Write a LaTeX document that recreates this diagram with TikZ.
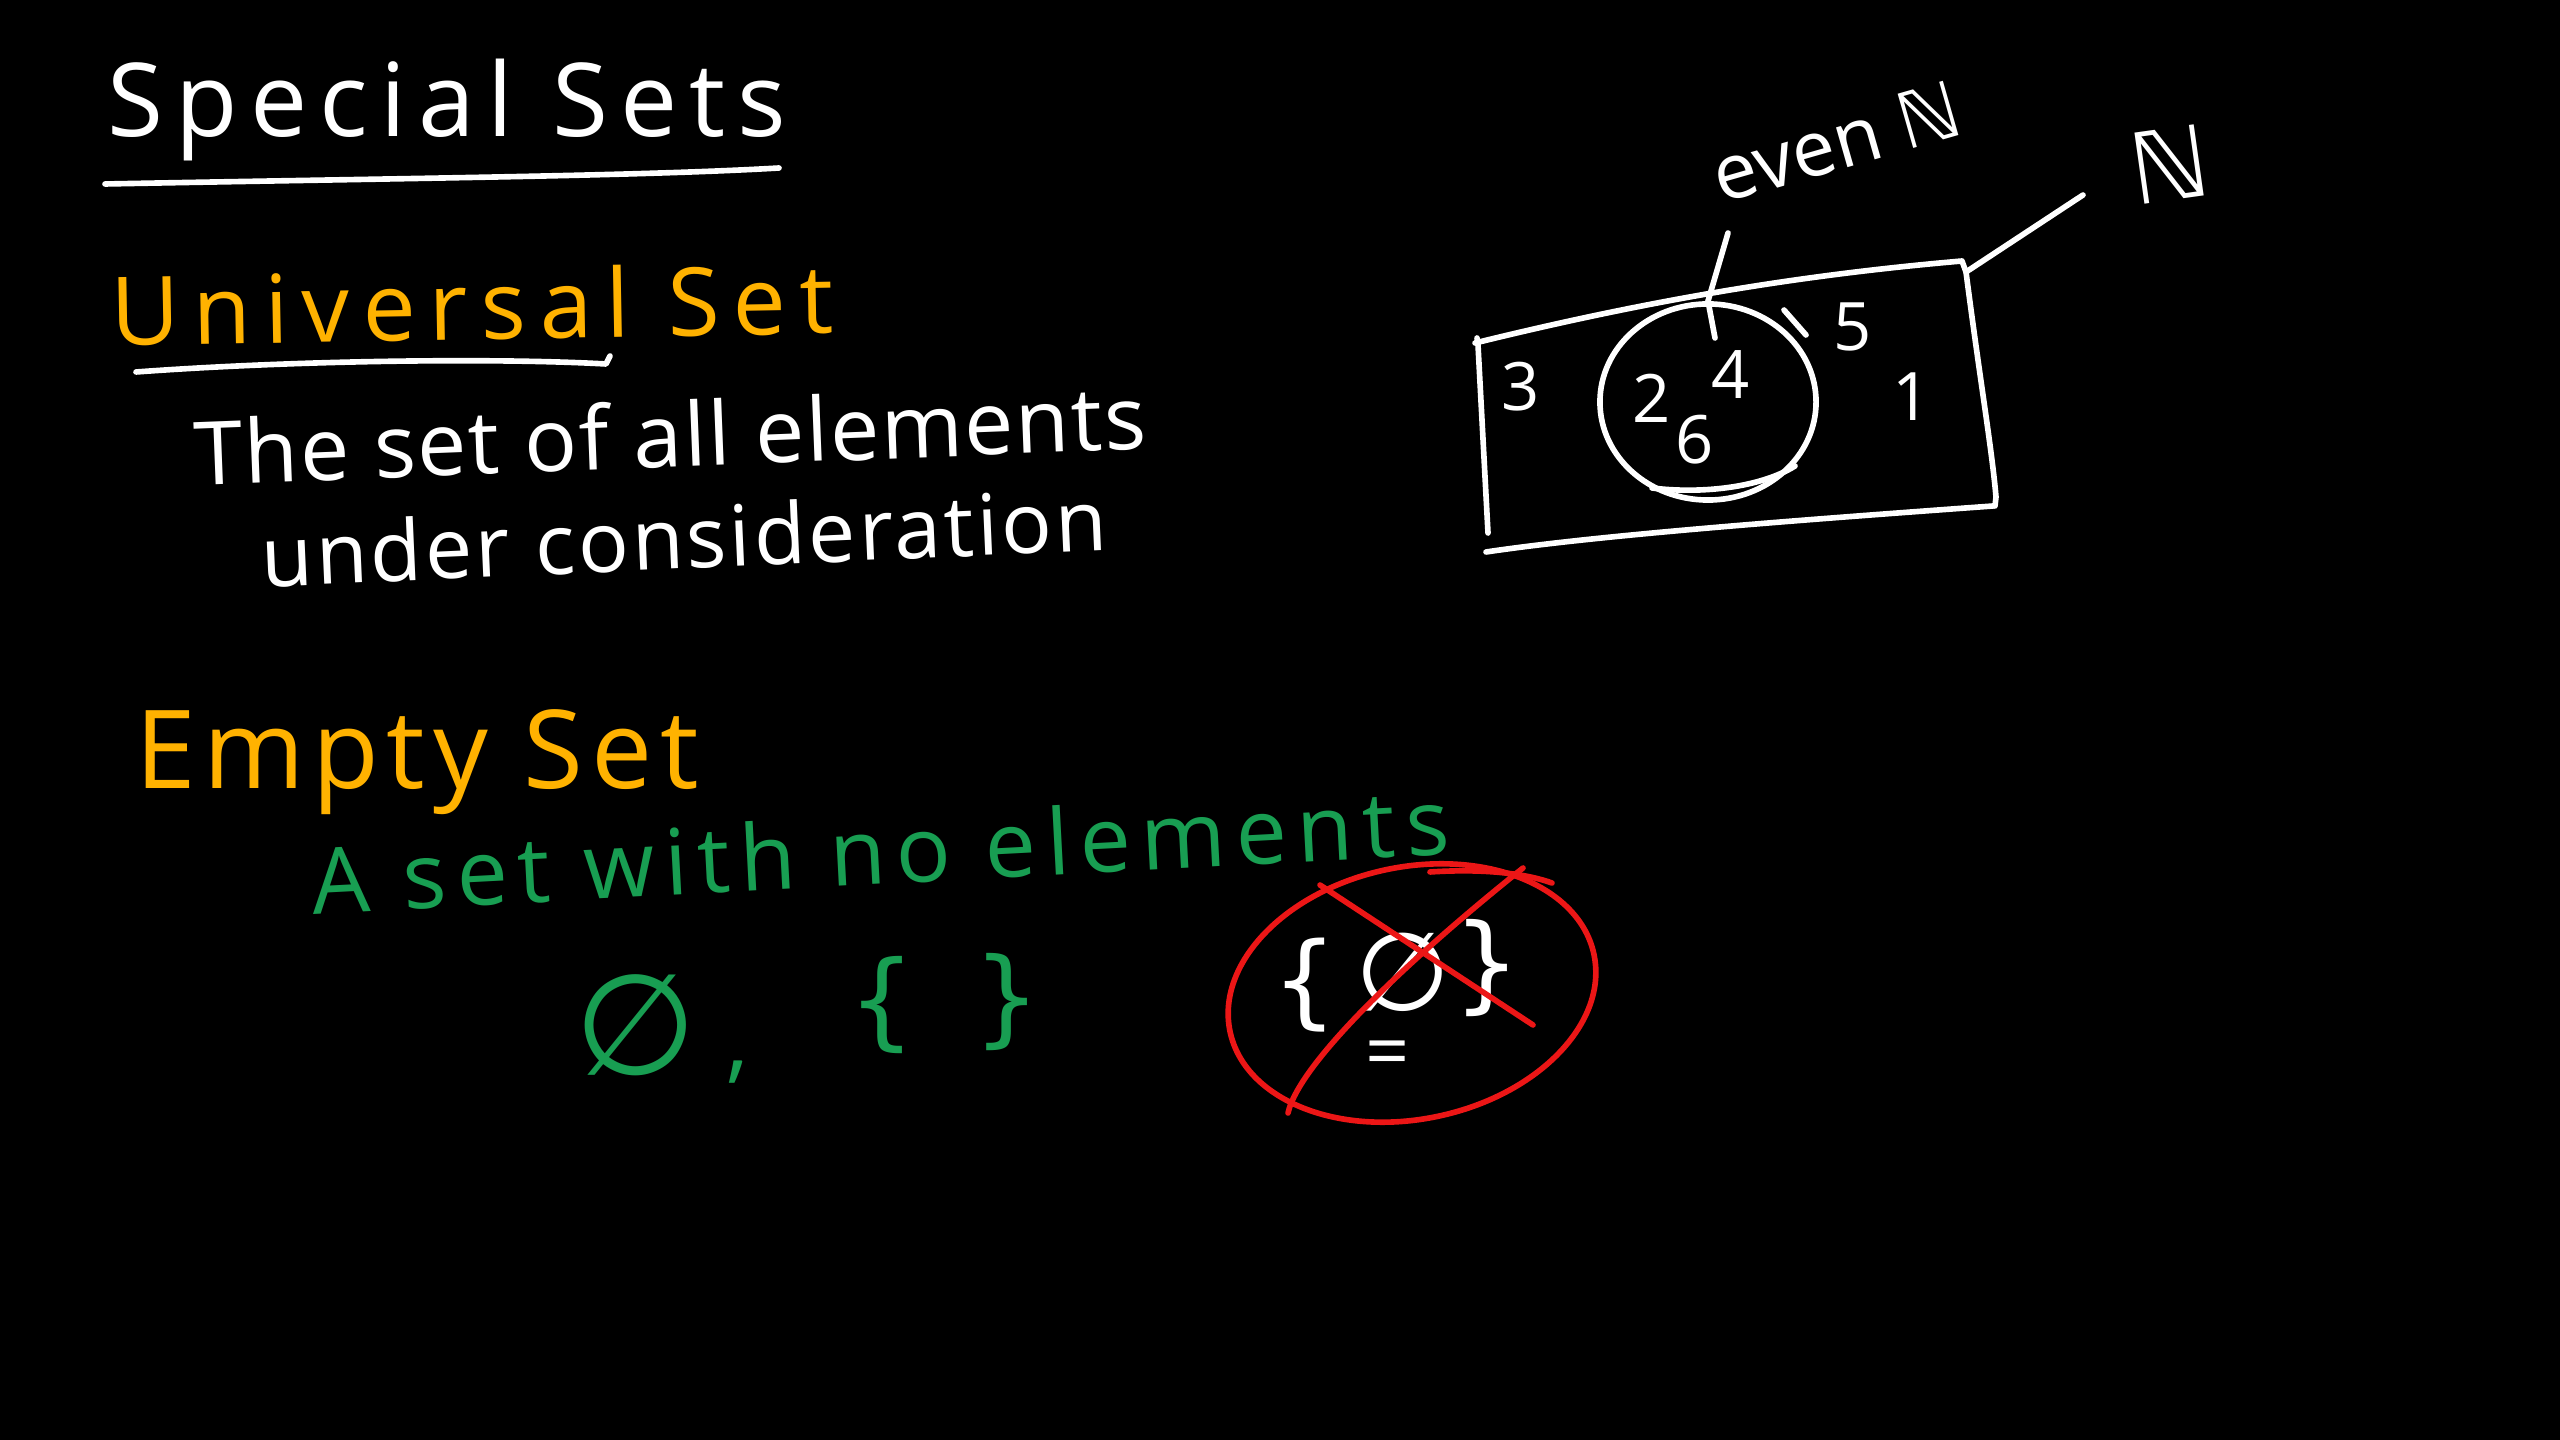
\documentclass[tikz,border=0pt]{standalone}
\usepackage{fontspec}
\usetikzlibrary{shapes.geometric}
\setmainfont{Open Sans}
\newfontfamily\symf{DejaVu Sans}
\definecolor{chalkorange}{RGB}{255,178,0}
\definecolor{chalkgreen}{RGB}{24,158,82}
\definecolor{chalkred}{RGB}{236,22,22}
\begin{document}
\begin{tikzpicture}[x=0.01cm,y=-0.01cm,
  chalk/.style={line width=1.6pt,line cap=round,line join=round},
  txt/.style={inner sep=0pt,text=white}]
\useasboundingbox (0,0) rectangle (2560,1440);
\fill[black] (0,0) rectangle (2560,1440);

% --- Title
\node[txt,font=\fontsize{29}{32}\selectfont\addfontfeature{LetterSpace=12}] (title) at (447,110) {Special Sets};
\draw[chalk,white] (105,184) .. controls (420,178) and (640,176) .. (779,168);

% --- Universal set
\node[txt,text=chalkorange,rotate=1,font=\fontsize{27}{30}\selectfont\addfontfeature{LetterSpace=14}] (uni) at (472,304) {Universal Set};
\draw[chalk,white] (136,372) .. controls (300,360) and (500,358) .. (606,364) -- (610,356);
\node[txt,rotate=2.2,font=\fontsize{25}{28}\selectfont\addfontfeature{LetterSpace=2}] (def1) at (670,434) {The set of all elements};
\node[txt,rotate=2.5,font=\fontsize{24}{28}\selectfont\addfontfeature{LetterSpace=3.5}] (def2) at (684,537) {under consideration};

% --- Venn diagram
\coordinate (rTL) at (1477,338);
\coordinate (rTR) at (1962,261);
\coordinate (rBR) at (1995,506);
\coordinate (rBL) at (1488,533);
\draw[chalk,white] (rTL) -- (1478,345) -- (rBL);
\draw[chalk,white] (1475,343) .. controls (1650,300) and (1800,275) .. (rTR) -- (1966,272) .. controls (1980,380) and (1992,450) .. (1996,497) -- (rBR);
\draw[chalk,white] (1993,506) .. controls (1800,520) and (1600,535) .. (1486,552);
\node[chalk,draw=white,ellipse,inner sep=0pt,minimum width=2.16cm,minimum height=1.96cm] (evenset) at (1708,402) {};
\draw[chalk,white] (1652,488) .. controls (1700,494) and (1760,488) .. (1795,466);
\draw[chalk,white] (1784,310) -- (1806,335);
\node[txt,rotate=16,font=\fontsize{22}{24}\selectfont] (evenlbl) at (1836,142) {even {\symf ℕ}};
\coordinate (evenptr) at (1728,233);
\draw[chalk,white] (evenptr) -- (evenset.north);
\draw[chalk,white] (evenset.north) -- (1715,338);
\node[txt,rotate=8,font=\fontsize{28}{30}\selectfont\symf] (natlbl) at (2170,164) {ℕ};
\coordinate (natptr) at (2083,195);
\coordinate (rcorner) at (1966,272);
\draw[chalk,white] (rcorner) -- (natptr);
\node[txt,font=\fontsize{19}{20}\selectfont] (n3) at (1521,387) {3};
\node[txt,font=\fontsize{19}{20}\selectfont] (n2) at (1652,398) {2};
\node[txt,font=\fontsize{19}{20}\selectfont] (n4) at (1731,375) {4};
\node[txt,font=\fontsize{19}{20}\selectfont] (n6) at (1695,440) {6};
\node[txt,font=\fontsize{19}{20}\selectfont] (n5) at (1853,327) {5};
\node[txt,font=\fontsize{19}{20}\selectfont] (n1) at (1912,397) {1};

% --- Empty set
\node[txt,text=chalkorange,font=\fontsize{31}{34}\selectfont\addfontfeature{LetterSpace=7}] (empty) at (417,762) {Empty Set};
\node[txt,text=chalkgreen,rotate=3,font=\fontsize{26}{28}\selectfont\addfontfeature{LetterSpace=11}] (nodef) at (880,850) {A set with no elements};
\node[txt,text=chalkgreen,font=\fontsize{40}{40}\selectfont\symf] (phi) at (636,1025) {∅};
\node[txt,text=chalkgreen,font=\fontsize{26}{26}\selectfont] (comma) at (738,1072) {,};
\node[txt,text=chalkgreen,font=\fontsize{30}{30}\selectfont\symf] (lbr) at (882,1005) {\{};
\node[txt,text=chalkgreen,font=\fontsize{30}{30}\selectfont\symf] (rbr) at (1007,1002) {\}};

% --- Wrong notation, crossed out
\node[txt,font=\fontsize{29}{29}\selectfont\symf] (wl) at (1305,985) {\{};
\node[txt,font=\fontsize{31}{31}\selectfont\symf] (wphi) at (1403,972) {∅};
\node[txt,font=\fontsize{30}{30}\selectfont\symf] (wr) at (1487,968) {\}};
\node[txt,font=\fontsize{22}{22}\selectfont] (weq) at (1388,1060) {=};
\draw[chalk,chalkred,rotate around={12:(1412,993)}] (1412,993) ellipse [x radius=186,y radius=126];
\draw[chalk,chalkred] (1430,872) .. controls (1490,868) and (1530,875) .. (1552,883);
\draw[chalk,chalkred] (1320,885) -- (1533,1025);
\draw[chalk,chalkred] (1288,1113) .. controls (1300,1060) and (1420,950) .. (1523,868);
\end{tikzpicture}
\end{document}
